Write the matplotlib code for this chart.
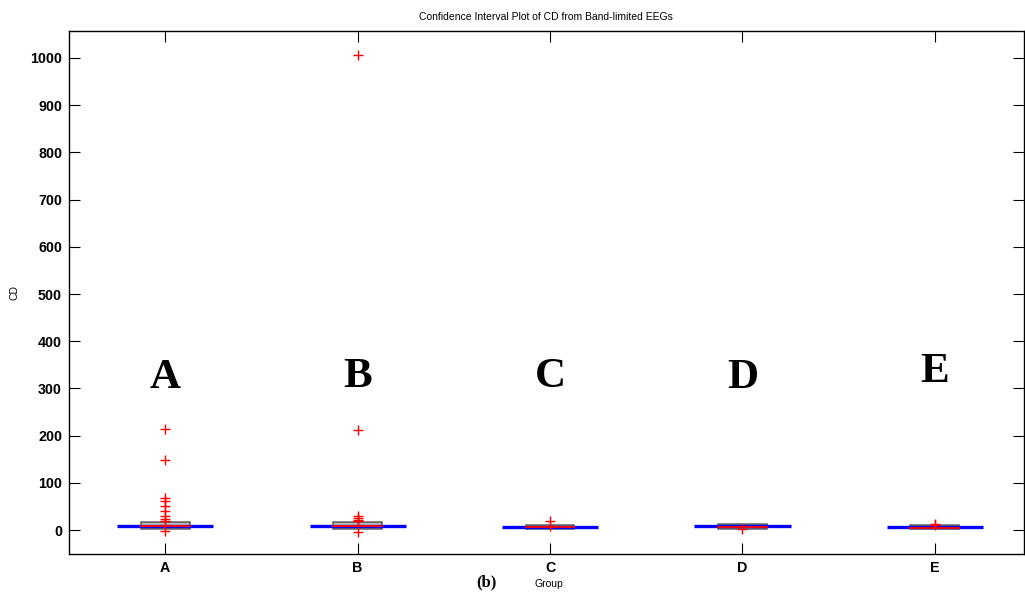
import matplotlib
matplotlib.use("Agg")
import matplotlib.pyplot as plt

# Group summaries of CD (band-limited EEGs)
groups = ["A", "B", "C", "D", "E"]
mean_cd = [9.1, 9.0, 7.0, 8.0, 5.7]
q1_cd = [1.5, 1.5, 3.0, 1.5, 2.8]
median_cd = [9.0, 9.0, 7.0, 7.0, 4.0]
q3_cd = [17.0, 17.0, 10.0, 12.0, 10.0]
outliers_a = [215, 148, 67, 61, 51, 41, 30, 23, 20, -1.5]
outliers_b = [1007, 212, 30, 25, 21, 19, -5]
outliers_c = [19, 8]
outliers_d = [1.5]
outliers_e = [13, 10]
outliers = [outliers_a, outliers_b, outliers_c, outliers_d, outliers_e]
y_ticks = [0, 100, 200, 300, 400, 500, 600, 700, 800, 900, 1000]
letter_y = [322, 325, 325, 322, 335]

W, H = 1025, 596
fig = plt.figure(figsize=(W / 100, H / 100), dpi=100)
ax = fig.add_axes([69 / W, 1 - 554 / H, (1024 - 69) / W, (554 - 31) / H])

positions = list(range(1, len(groups) + 1))
ci_half = 0.25
box_half = 0.127

for x, m, lo, med, hi, outs in zip(positions, mean_cd, q1_cd, median_cd, q3_cd, outliers):
    ax.add_patch(plt.Rectangle((x - box_half, lo), 2 * box_half, hi - lo,
                               facecolor="#a0a0a0", edgecolor="#222222",
                               lw=1.1, alpha=0.7, zorder=2))
    ax.plot([x - ci_half, x + ci_half], [m, m], color="#0000ff", lw=2.4,
            solid_capstyle="butt", zorder=3)
    ax.plot([x - box_half, x + box_half], [med, med], color="#ff0000", lw=1.3, zorder=4)
    ax.plot([x] * len(outs), outs, linestyle="none", marker="+", color="#ff0000",
            markersize=7.5, mew=1.0, zorder=5)

for x, ly, g in zip(positions, letter_y, groups):
    ax.text(x, ly, g, ha="center", va="center", fontsize=31, fontweight="bold",
            family="Liberation Serif")

ax.set_xlim(0.5, 0.5 + (1024 - 69) / 192.4)
ax.set_ylim(-50.8, 1057.2)
ax.set_xticks(positions)
ax.set_xticklabels(groups)
ax.set_yticks(y_ticks)
for lab in ax.get_xticklabels() + ax.get_yticklabels():
    lab.set_fontweight("bold")
    lab.set_fontsize(10.3)
    lab.set_family("Liberation Sans")
ax.tick_params(direction="in", length=8, width=0.8, top=True, right=True, pad=5)
for s in ax.spines.values():
    s.set_linewidth(1.0)

fig.text(546 / W, 1 - 17 / H, "Confidence Interval Plot of CD from Band-limited EEGs",
         ha="center", va="center", fontsize=7.5, family="Liberation Sans")
fig.text(549 / W, 1 - 584 / H, "Group", ha="center", va="center",
         fontsize=7.5, family="Liberation Sans")
fig.text(486 / W, 1 - 582 / H, "(b)", ha="center", va="center",
         fontsize=12, fontweight="bold", family="Liberation Serif")
fig.text(14 / W, 1 - 293 / H, "CD", ha="center", va="center", rotation=90,
         fontsize=7.5, family="Liberation Sans")

fig.savefig("out.png", dpi=100)
